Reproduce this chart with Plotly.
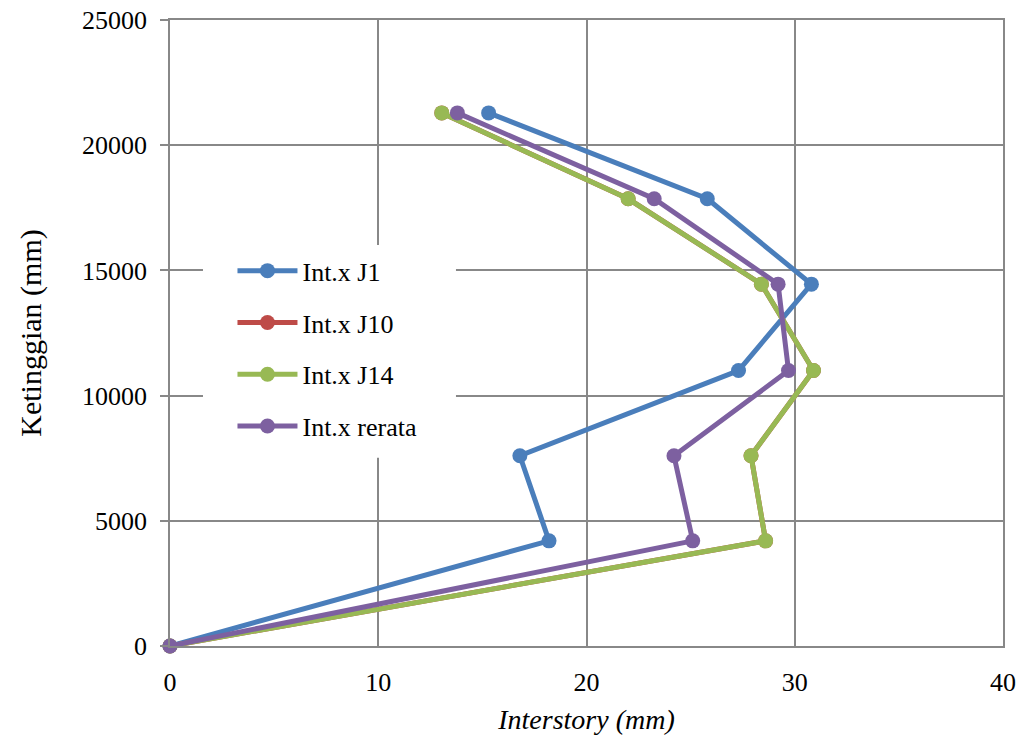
import plotly.graph_objects as go

# Storey heights (mm) and interstory drift values (mm)
ketinggian = [0, 4200, 7600, 11000, 14450, 17860, 21290]
int_j1 = [0, 18.2, 16.8, 27.3, 30.8, 25.8, 15.3]
int_j10 = [0, 28.6, 27.9, 30.9, 28.4, 22.0, 13.05]
int_j14 = [0, 28.6, 27.9, 30.9, 28.4, 22.0, 13.05]
int_rerata = [0, 25.1, 24.2, 29.7, 29.2, 23.25, 13.8]

series = [
    ("Int.x J1", int_j1, "#4A7EBB"),
    ("Int.x J10", int_j10, "#BE4B48"),
    ("Int.x J14", int_j14, "#98B954"),
    ("Int.x rerata", int_rerata, "#7D60A0"),
]

x_ticks = [0, 10, 20, 30, 40]
y_ticks = [0, 5000, 10000, 15000, 20000, 25000]

grid = "#888888"
font_family = "Liberation Serif"

fig = go.Figure()
for i, (name, vals, color) in enumerate(series):
    fig.add_trace(go.Scatter(
        x=vals, y=ketinggian, name=name, mode="lines+markers",
        line=dict(color=color, width=5),
        marker=dict(color=color, size=15),
        legendgroup=f"g{i}",
        cliponaxis=False,
    ))

# opaque white panel behind the legend, hiding the gridlines there
fig.add_shape(
    type="rect", xref="paper", yref="paper",
    x0=0.0396, x1=0.3433, y0=0.3006, y1=0.6404,
    fillcolor="white", line=dict(width=0), layer="above",
)

fig.update_layout(
    width=1024, height=742,
    margin=dict(l=170, r=21, t=20, b=96),
    paper_bgcolor="white", plot_bgcolor="white",
    font=dict(family=font_family, size=26, color="black"),
    showlegend=True,
    legend=dict(
        x=0.075, y=0.637, xanchor="left", yanchor="top",
        bgcolor="rgba(255,255,255,0)", borderwidth=0,
        font=dict(size=26, family=font_family),
        traceorder="grouped", tracegroupgap=15,
        itemwidth=60,
    ),
    xaxis=dict(
        range=[0, 40], tickvals=x_ticks, ticks="", tickformat="d",
        automargin=False,
        showgrid=True, gridcolor=grid, gridwidth=1.5,
        showline=True, linecolor=grid, linewidth=1.5, mirror=True,
        zeroline=False, ticklabelstandoff=12,
        title=dict(text="<i>Interstory (mm)</i>", font=dict(size=28), standoff=13),
    ),
    yaxis=dict(
        range=[0, 25000], tickvals=y_ticks, ticks="outside", ticklen=8,
        tickformat="d", automargin=False,
        tickcolor=grid, tickwidth=1.5,
        showgrid=True, gridcolor=grid, gridwidth=1.5,
        showline=True, linecolor=grid, linewidth=1.5, mirror=True,
        zeroline=False, ticklabelstandoff=8,
        title=dict(text="Ketinggian (mm)", font=dict(size=30), standoff=32),
    ),
)

fig.write_html("out.html")
